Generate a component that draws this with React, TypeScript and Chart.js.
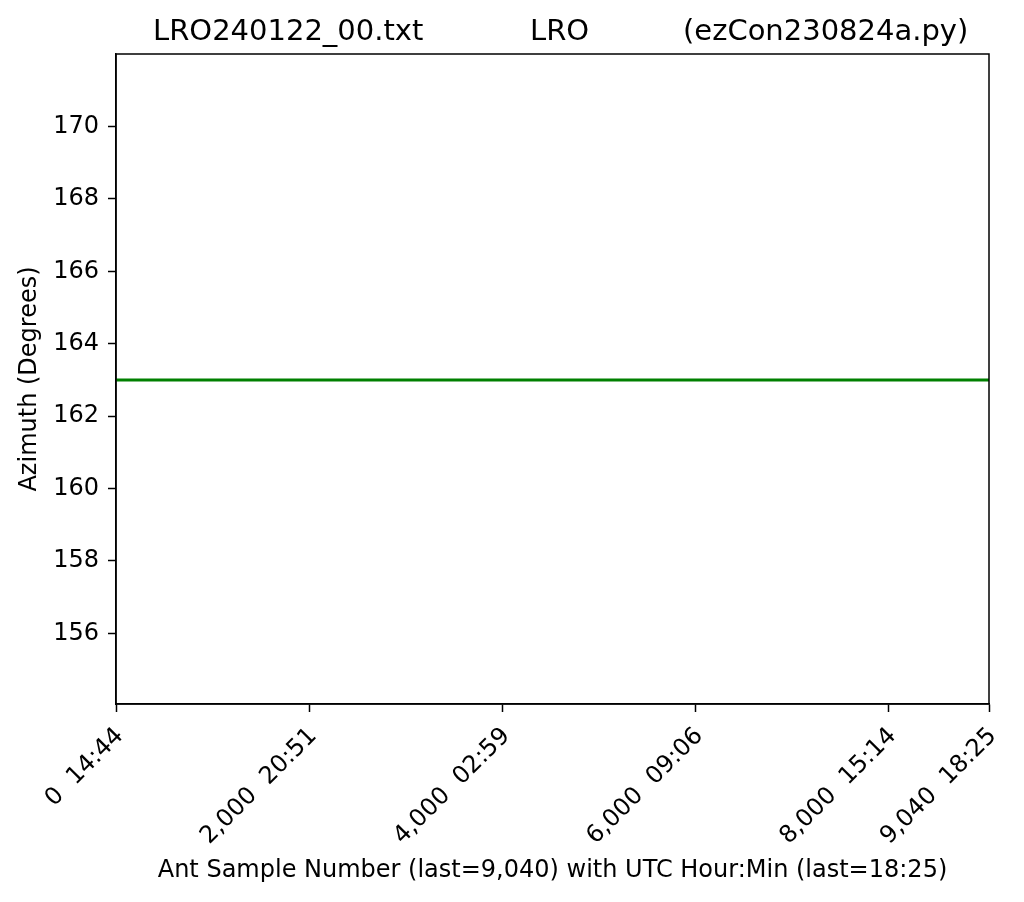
import React, { useEffect, useRef } from "react";
import { Chart, registerables } from "chart.js";

Chart.register(...registerables);

const sampleNumbers = [0, 9040];
const azimuthValues = [163, 163];
const xTickValues = [0, 2000, 4000, 6000, 8000, 9040];
const xTickLabels = [
  "0  14:44",
  "2,000  20:51",
  "4,000  02:59",
  "6,000  09:06",
  "8,000  15:14",
  "9,040  18:25",
];
const yTickValues = [156, 158, 160, 162, 164, 166, 168, 170];
const titleParts = ["LRO240122_00.txt", "LRO", "(ezCon230824a.py)"];
const titlePartX = [153, 530, 683];
const xAxisTitle = "Ant Sample Number (last=9,040) with UTC Hour:Min (last=18:25)";
const yAxisTitle = "Azimuth (Degrees)";
const yMin = 154.05;
const yMax = 172.0;
const xMin = 0;
const xMax = 9040;

const FONT = '"DejaVu Sans", sans-serif';

const framePlugin = {
  id: "frameAndTitle",
  afterDraw(chart: any) {
    const { ctx, chartArea } = chart;
    ctx.save();
    ctx.strokeStyle = "#000";
    ctx.lineWidth = 1.5;
    ctx.strokeRect(
      chartArea.left,
      chartArea.top,
      chartArea.right - chartArea.left,
      chartArea.bottom - chartArea.top
    );
    ctx.fillStyle = "#000";
    ctx.font = `29px ${FONT}`;
    ctx.textAlign = "left";
    ctx.textBaseline = "alphabetic";
    titleParts.forEach((t, i) => ctx.fillText(t, titlePartX[i], 40));
    ctx.restore();
  },
};

export default function App() {
  const ref = useRef<HTMLCanvasElement | null>(null);
  useEffect(() => {
    if (!ref.current) return;
    const chart = new Chart(ref.current, {
      type: "line",
      data: {
        datasets: [
          {
            data: sampleNumbers.map((x, i) => ({ x, y: azimuthValues[i] })),
            borderColor: "#008000",
            borderWidth: 3,
            pointRadius: 0,
            fill: false,
          },
        ],
      },
      options: {
        animation: false,
        responsive: false,
        maintainAspectRatio: false,
        layout: { padding: { top: 54, right: 35, left: 0, bottom: 0 } },
        plugins: {
          legend: { display: false },
          title: { display: false },
          tooltip: { enabled: false },
        },
        scales: {
          x: {
            type: "linear",
            min: xMin,
            max: xMax,
            afterBuildTicks: (scale: any) => {
              scale.ticks = xTickValues.map((v) => ({ value: v }));
            },
            afterFit: (scale: any) => {
              scale.height = 198;
            },
            ticks: {
              autoSkip: false,
              minRotation: 45,
              maxRotation: 45,
              padding: 10,
              labelOffset: 4,
              color: "#000",
              font: { family: FONT, size: 24 },
              callback: (v: any) => {
                const idx = xTickValues.indexOf(Number(v));
                return idx >= 0 ? xTickLabels[idx] : "";
              },
            },
            grid: {
              drawOnChartArea: false,
              drawTicks: true,
              tickLength: 8,
              tickWidth: 1.5,
              color: "#000",
            },
            border: { display: true, color: "#000", width: 1.5 },
            title: {
              display: true,
              text: xAxisTitle,
              color: "#000",
              font: { family: FONT, size: 24 },
              padding: { top: 17, bottom: 17 },
            },
          },
          y: {
            type: "linear",
            min: yMin,
            max: yMax,
            afterBuildTicks: (scale: any) => {
              scale.ticks = yTickValues.map((v) => ({ value: v }));
            },
            afterFit: (scale: any) => {
              scale.width = 116;
            },
            ticks: {
              autoSkip: false,
              padding: 9,
              color: "#000",
              font: { family: FONT, size: 24 },
              callback: (v: any) => String(v),
            },
            grid: {
              drawOnChartArea: false,
              drawTicks: true,
              tickLength: 8,
              tickWidth: 1.5,
              color: "#000",
            },
            border: { display: true, color: "#000", width: 1.5 },
            title: {
              display: true,
              text: yAxisTitle,
              color: "#000",
              font: { family: FONT, size: 24 },
              padding: { top: 15, bottom: 15 },
            },
          },
        },
      },
      plugins: [framePlugin],
    } as any);
    return () => chart.destroy();
  }, []);
  return (
    <div style={{ position: "absolute", left: 0, top: 0, width: 1024, height: 902, background: "#fff" }}>
      <canvas ref={ref} width={1024} height={902} style={{ width: 1024, height: 902 }} />
    </div>
  );
}
